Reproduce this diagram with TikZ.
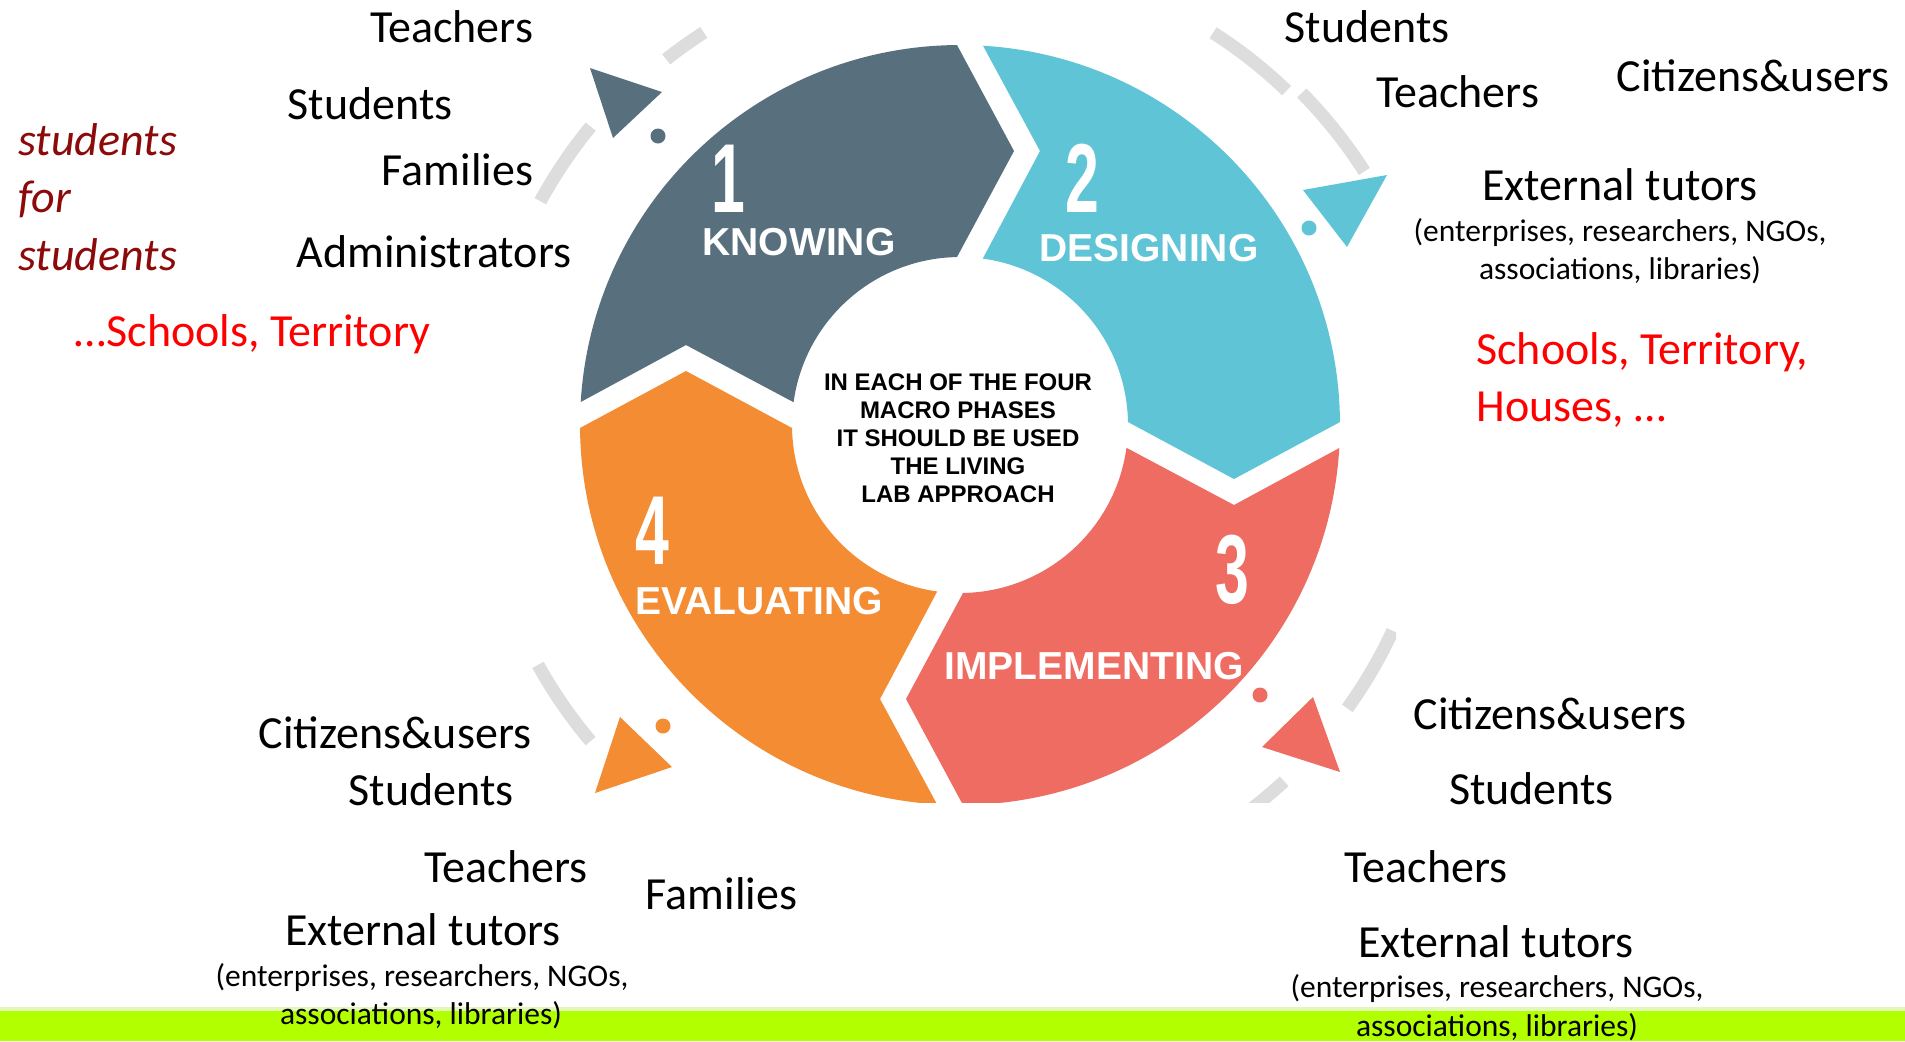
\documentclass[tikz,border=0pt]{standalone}
\usepackage{fontspec}
\setmainfont{Carlito}
\newfontfamily\arialf{Liberation Sans}
\newfontfamily\numf{Liberation Sans}[FakeStretch=0.62]
\usetikzlibrary{calc}
\definecolor{cdark}{RGB}{88,112,126}
\definecolor{cteal}{RGB}{95,196,213}
\definecolor{cred}{RGB}{238,108,98}
\definecolor{corange}{RGB}{244,140,52}
\definecolor{cgray}{RGB}{221,221,221}
\definecolor{cgreen}{RGB}{178,255,0}
\definecolor{cpale}{RGB}{226,248,186}
\definecolor{cmaroon}{RGB}{140,10,10}
\definecolor{cbright}{RGB}{255,0,0}
\def\Ro{380}
\def\Ri{168}
\def\Rm{274}
\newcommand\ringseg[2]{%
  \fill[#2] ($(C)+({#1+3.47}:\Ro)$) arc[start angle={#1+3.47}, end angle={#1+89.55}, radius=\Ro]
    -- ($(C)+({#1+90}:\Rm)+({#1+180}:54)$)
    -- ($(C)+({#1+88.98}:\Ri)$) arc[start angle={#1+88.98}, end angle={#1+7.8}, radius=\Ri]
    -- ($(C)+(#1:\Rm)+({#1+90}:80)$) -- cycle;}
\newcommand\grayarc[3]{%
  \draw[grayline] (G) ++(#1:#3) arc[start angle=#1, end angle=#2, radius=#3];}
\tikzset{
  grayline/.style={cgray, line width=6.5pt},
  lbl/.style={font=\fontsize{23}{27}\selectfont, inner sep=0pt, anchor=base},
  sml/.style={font=\fontsize{15.75}{18}\selectfont, inner sep=0pt, anchor=base},
  redlbl/.style={lbl, text=cbright, anchor=base west},
  itl/.style={font=\fontsize{23}{27}\selectfont\itshape, text=cmaroon, inner sep=0pt, anchor=base west},
  seglbl/.style={font=\arialf\bfseries\fontsize{19.5}{22}\selectfont, text=white, inner sep=0pt},
  numlbl/.style={font=\numf\bfseries\fontsize{49}{49}\selectfont, text=white, inner sep=0pt},
  centertxt/.style={font=\arialf\bfseries\fontsize{12}{14}\selectfont, align=center, inner sep=0pt}
}
\begin{document}
\begin{tikzpicture}[x=0.5pt,y=-0.5pt]
\useasboundingbox (0,0) rectangle (1905,1041);
\fill[white] (0,0) rectangle (1905,1041);
\coordinate (C) at (960,425);
\coordinate (G) at (960,430);
\begin{scope}
\clip (530,20) rectangle (1396,802);
% gray outer dashes
\grayarc{231.6}{237.2}{473}
\grayarc{208.6}{219.4}{478}
\grayarc{302.5}{313.9}{471}
\grayarc{315.4}{327.4}{480}
\grayarc{24.9}{35.7}{477}
\grayarc{47.3}{53}{478}
\grayarc{139.9}{150.9}{483}
% ring segments
\ringseg{180}{cdark}
\ringseg{270}{cteal}
\ringseg{0}{cred}
\ringseg{90}{corange}
% arrowheads and dots
\fill[cdark] (590,68) -- (662,92) -- (613,138) -- cycle;
\fill[cdark] (658,136) circle[radius=7.5];
\fill[cteal] (1303,190) -- (1387,175) -- (1347,247) -- cycle;
\fill[cteal] (1309,228) circle[radius=7.5];
\fill[cred] (1262,747) -- (1313,697) -- (1340,772) -- cycle;
\fill[cred] (1260,695) circle[radius=7.5];
\fill[corange] (620,717) -- (672,767) -- (595,793) -- cycle;
\fill[corange] (663,726) circle[radius=7.5];
\end{scope}
% segment numbers and labels
\node[numlbl] (n1) at (728,179) {1};
\node[numlbl] (n2) at (1082,178) {2};
\node[numlbl] (n3) at (1232,570) {3};
\node[numlbl] (n4) at (652,531) {4};
\node[seglbl] (s1) at (799,242) {KNOWING};
\node[seglbl] (s2) at (1149,248) {DESIGNING};
\node[seglbl] (s3) at (1094,666) {IMPLEMENTING};
\node[seglbl] (s4) at (759,601) {EVALUATING};
\node[centertxt] (ctr) at (958,438) {IN EACH OF THE FOUR\\MACRO PHASES\\IT SHOULD BE USED\\THE LIVING\\LAB APPROACH};
% green bar
\fill[cpale] (0,1007) rectangle (1905,1011);
\fill[cgreen] (0,1011) rectangle (1905,1041);
% top-left texts
\node[lbl] (t1) at (451.5,42.5) {Teachers};
\node[lbl] (t2) at (370,119) {Students};
\node[lbl] (t3) at (457.5,185) {Families};
\node[lbl] (t4) at (434,267) {Administrators};
\node[lbl, text=cbright] (t5) at (252.5,346) {…Schools, Territory};
\node[itl] (t6) at (18,155.5) {students};
\node[itl] (t7) at (18,212.6) {for};
\node[itl] (t8) at (18,270) {students};
% top-right texts
\node[lbl] (r1) at (1367,42.5) {Students};
\node[lbl] (r2) at (1457.5,107) {Teachers};
\node[lbl] (r3) at (1753,91) {Citizens\&users};
\node[lbl] (r4) at (1620,200) {External tutors};
\node[sml] (r5) at (1620,241) {(enterprises, researchers, NGOs,};
\node[sml] (r6) at (1620,279) {associations, libraries)};
\node[redlbl] (r7) at (1476,364.5) {Schools, Territory,};
\node[redlbl] (r8) at (1476,421.5) {Houses, …};
% bottom-left texts
\node[lbl] (b1) at (395,748) {Citizens\&users};
\node[lbl] (b2) at (431,805.5) {Students};
\node[lbl] (b3) at (506,882) {Teachers};
\node[lbl] (b4) at (721.5,909) {Families};
\node[lbl] (b5) at (423,945) {External tutors};
\node[sml] (b6) at (422,986.5) {(enterprises, researchers, NGOs,};
\node[sml] (b7) at (421,1024) {associations, libraries)};
% bottom-right texts
\node[lbl] (c1) at (1550,729) {Citizens\&users};
\node[lbl] (c2) at (1531.5,804) {Students};
\node[lbl] (c3) at (1426,882) {Teachers};
\node[lbl] (c4) at (1496,957) {External tutors};
\node[sml] (c5) at (1497,997) {(enterprises, researchers, NGOs,};
\node[sml] (c6) at (1497,1036) {associations, libraries)};
\end{tikzpicture}
\end{document}
